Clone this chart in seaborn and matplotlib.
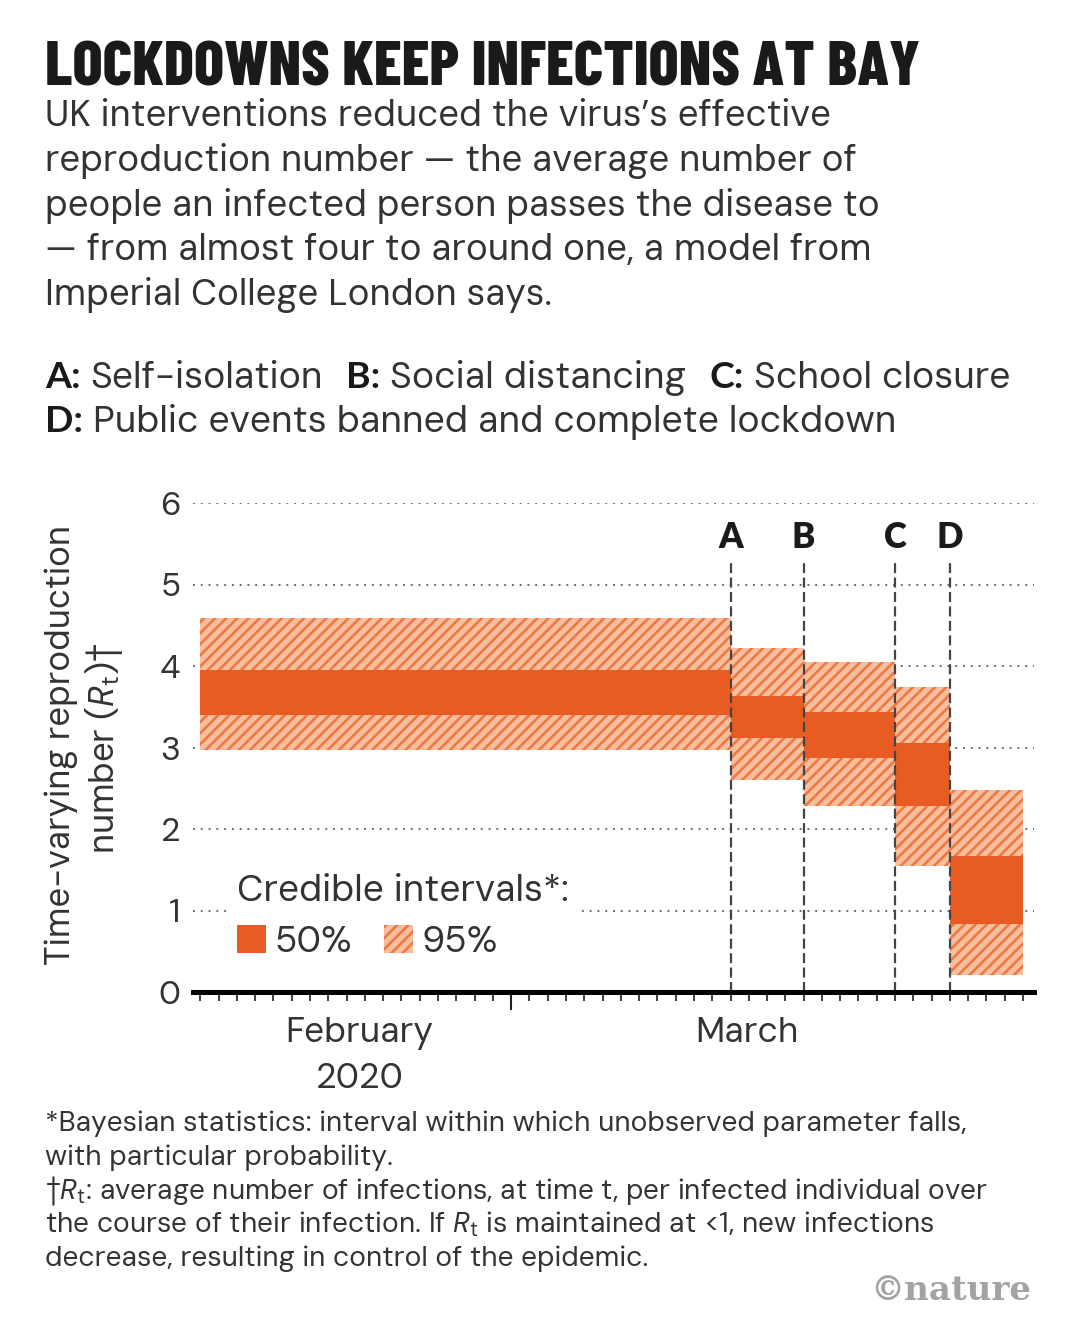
import matplotlib
matplotlib.use("Agg")
import matplotlib.pyplot as plt
from matplotlib.patches import Patch
from matplotlib.transforms import blended_transform_factory
import numpy as np
import seaborn as sns

# ---------------- data ----------------
periods = ["Before A", "A to B", "B to C", "C to D", "After D"]
period_start = [0, 29, 33, 38, 41]      # days counted from 12 Feb 2020
period_end = [29, 33, 38, 41, 45]
ci95_low = [2.97, 2.60, 2.28, 1.55, 0.21]
ci95_high = [4.59, 4.22, 4.05, 3.74, 2.48]
ci50_low = [3.40, 3.12, 2.87, 2.28, 0.83]
ci50_high = [3.95, 3.63, 3.44, 3.06, 1.67]
intervention_labels = ["A", "B", "C", "D"]
intervention_day = [29, 33, 38, 41]
month_labels = ["February", "March"]
month_label_day = [8.7, 29.9]
year_label = "2020"
month_boundary = [17]
day_ticks = list(range(0, 46))
y_ticks = [0, 1, 2, 3, 4, 5, 6]
legend_labels = ["50%", "95%"]

title = "LOCKDOWNS KEEP INFECTIONS AT BAY"
subtitle = [
    "UK interventions reduced the virus\u2019s effective",
    "reproduction number \u2014 the average number of",
    "people an infected person passes the disease to",
    "\u2014 from almost four to around one, a model from",
    "Imperial College London says.",
]
key_lines = [
    [("A:", "bold", 1.0), ("Self-isolation", "normal", 2.3), ("B:", "bold", 1.0),
     ("Social distancing", "normal", 2.3), ("C:", "bold", 1.0), ("School closure", "normal", 0)],
    [("D:", "bold", 1.0), ("Public events banned and complete lockdown", "normal", 0)],
]
footnotes = [
    "*Bayesian statistics: interval within which unobserved parameter falls,",
    "with particular probability.",
    "\u2020$R_\\mathrm{t}$: average number of infections, at time t, per infected individual over",
    "the course of their infection. If $R_\\mathrm{t}$ is maintained at <1, new infections",
    "decrease, resulting in control of the epidemic.",
]

# ---------------- style ----------------
sns.set_theme(style="white")
BODY = ["DM Sans", "Inter", "DejaVu Sans"]
BOLD = ["Lato", "DejaVu Sans"]
TITLE_FONT = ["Barlow Condensed", "Roboto Condensed", "DejaVu Sans"]
SERIF = ["DejaVu Serif"]
plt.rcParams["font.family"] = BODY
plt.rcParams["mathtext.fontset"] = "custom"
plt.rcParams["mathtext.rm"] = "DM Sans"
plt.rcParams["mathtext.it"] = "DM Sans:italic"
plt.rcParams["mathtext.bf"] = "Lato:bold"
plt.rcParams["hatch.linewidth"] = 1.85

ORANGE = "#E85C24"
HATCH_FACE = "#F8BE9E"
HATCH_LINE = "#EE7842"
plt.rcParams["hatch.color"] = HATCH_LINE
TXT = "#333333"
TITLE_C = "#1a1a1a"

W, H = 1080, 1330
fig = plt.figure(figsize=(W / 100, H / 100), dpi=100)
fig.patch.set_facecolor("white")
renderer = fig.canvas.get_renderer()


def fxy(px, py):
    return px / W, 1 - py / H


def wid(t):
    return t.get_window_extent(renderer).width


def fit(t, target, horizontal=True):
    for _ in range(3):
        bb = t.get_window_extent(renderer)
        cur = bb.width if horizontal else bb.height
        t.set_fontsize(t.get_fontsize() * target / cur)
    return t.get_fontsize()


def fam(weight):
    return BOLD if weight == "bold" else BODY


def space_width(size):
    a = fig.text(0, 0, "a a", fontsize=size)
    b = fig.text(0, 0, "aa", fontsize=size)
    w = wid(a) - wid(b)
    a.remove()
    b.remove()
    return w


# ---------------- header ----------------
t = fig.text(*fxy(45, 85), title, family=TITLE_FONT, fontweight="heavy",
             color=TITLE_C, fontsize=40, ha="left", va="baseline")
fit(t, 873)

sub_texts = [fig.text(*fxy(45, 126 + i * 44.8), s, fontsize=24, color=TXT,
                      ha="left", va="baseline") for i, s in enumerate(subtitle)]
sub_size = fit(sub_texts[2], 835)
for s in sub_texts:
    s.set_fontsize(sub_size)


def runs_line(x0, ybase, runs, size):
    objs = []
    for s, wgt, gap in runs:
        objs.append((fig.text(0, 0, s, fontsize=size, fontweight=wgt, family=fam(wgt),
                              color=TXT if wgt == "normal" else TITLE_C,
                              ha="left", va="baseline"), gap))
    sp = space_width(size)
    x = x0
    for o, gap in objs:
        o.set_position(fxy(x, ybase))
        x += wid(o) + gap * sp
    return x - x0


key_size = 24.0
for _ in range(3):
    sp = space_width(key_size)
    total = 0
    for s, wgt, gap in key_lines[0]:
        o = fig.text(0, 0, s, fontsize=key_size, fontweight=wgt, family=fam(wgt))
        total += wid(o) + gap * sp
        o.remove()
    key_size *= 965 / total
runs_line(45, 388, key_lines[0], key_size)
runs_line(45, 432, key_lines[1], key_size)

# ---------------- axes ----------------
ax = fig.add_axes([193 / W, 1 - 992 / H, (1034 - 193) / W, (992 - 503) / H])
ax.set_facecolor("white")
ax.set_xlim(-0.4, 45.6)
ax.set_ylim(0, 6)

widths = np.subtract(period_end, period_start)
ax.bar(period_start, np.subtract(ci95_high, ci95_low), width=widths, bottom=ci95_low,
       align="edge", color=HATCH_FACE, edgecolor=HATCH_LINE, hatch="///",
       linewidth=0, zorder=2)
ax.bar(period_start, np.subtract(ci50_high, ci50_low), width=widths, bottom=ci50_low,
       align="edge", color=ORANGE, linewidth=0, zorder=3)

ax.vlines(intervention_day, 0, 5.3, colors="#444444", linestyles=(0, (4.5, 2.0)),
          linewidth=1.6, zorder=4)
for lab, d in zip(intervention_labels, intervention_day):
    ax.text(d, 5.58, lab, ha="center", va="center", fontsize=25, fontweight="heavy",
            family=BOLD, color=TITLE_C, zorder=5)

ax.set_yticks(y_ticks)
ax.set_yticklabels([str(v) for v in y_ticks])
ax.grid(axis="y", linestyle=(0, (1, 3.0)), color="#6f6f6f", linewidth=1.4)
ax.grid(axis="x", visible=False)
ax.set_axisbelow(True)

ax.set_xticks(month_boundary)
ax.set_xticks(day_ticks, minor=True)
ax.set_xticklabels([])
ax.tick_params(axis="x", which="major", length=13, width=1.5, color="#222222",
               direction="out", bottom=True)
ax.tick_params(axis="x", which="minor", length=6.5, width=1.5, color="#444444",
               direction="out", bottom=True)
ax.tick_params(axis="y", length=0, pad=9, labelsize=24, labelcolor=TXT)
for side in ["top", "right", "left"]:
    ax.spines[side].set_visible(False)
ax.spines["bottom"].set_linewidth(3.6)
ax.spines["bottom"].set_color("black")
ax.spines["bottom"].set_zorder(6)

# month labels
btr = blended_transform_factory(ax.transData, fig.transFigure)
mtexts = []
for lab, d in zip(month_labels, month_label_day):
    mtexts.append(ax.text(d, 1 - 1042 / H, lab, transform=btr, ha="center",
                          va="baseline", fontsize=22, color=TXT, clip_on=False))
msize = fit(mtexts[0], 148)
for m in mtexts:
    m.set_fontsize(msize)
ax.text(month_label_day[0], 1 - 1088 / H, year_label, transform=btr, ha="center",
        va="baseline", fontsize=msize, color=TXT, clip_on=False)

# legend
tmp = fig.text(0, 0, "Credible intervals*:", fontsize=22)
leg_size = fit(tmp, 332)
tmp.remove()
handles = [Patch(facecolor=ORANGE, linewidth=0),
           Patch(facecolor=HATCH_FACE, edgecolor=HATCH_LINE, hatch="///", linewidth=0)]
leg = ax.legend(handles, legend_labels, title="Credible intervals*:", ncol=2,
                loc="upper left", bbox_to_anchor=(228 / W, 1 - 865 / H),
                bbox_transform=fig.transFigure, borderaxespad=0, frameon=True,
                fancybox=False, framealpha=1, facecolor="white", edgecolor="white",
                borderpad=0.25, handlelength=0.78, handleheight=0.78,
                handletextpad=0.22, columnspacing=0.85, labelspacing=0.42,
                alignment="left", fontsize=leg_size, title_fontsize=leg_size)
leg.get_title().set_color(TXT)
for tx in leg.get_texts():
    tx.set_color(TXT)
leg.set_zorder(5)

# y label
yl1 = fig.text(*fxy(61, 745), "Time-varying reproduction", rotation=90, ha="center",
               va="center", fontsize=22, color=TXT)
ysize = fit(yl1, 440, horizontal=False)
fig.text(*fxy(104, 748), "number ($R_\\mathrm{t}$)\u2020", rotation=90, ha="center",
         va="center", fontsize=ysize, color=TXT)

# ---------------- footnotes ----------------
fn_texts = [fig.text(*fxy(45, 1131 + i * 33.8), s, fontsize=18, color=TXT,
                     ha="left", va="baseline") for i, s in enumerate(footnotes)]
fn_size = fit(fn_texts[0], 920)
for f in fn_texts:
    f.set_fontsize(fn_size)

logo = fig.text(*fxy(1031, 1300), "\u00a9nature", ha="right", va="baseline",
                family=SERIF, fontweight="bold", color="#a3a3a3", fontsize=24)
fit(logo, 162)

fig.savefig("out.png", dpi=100, facecolor="white")
